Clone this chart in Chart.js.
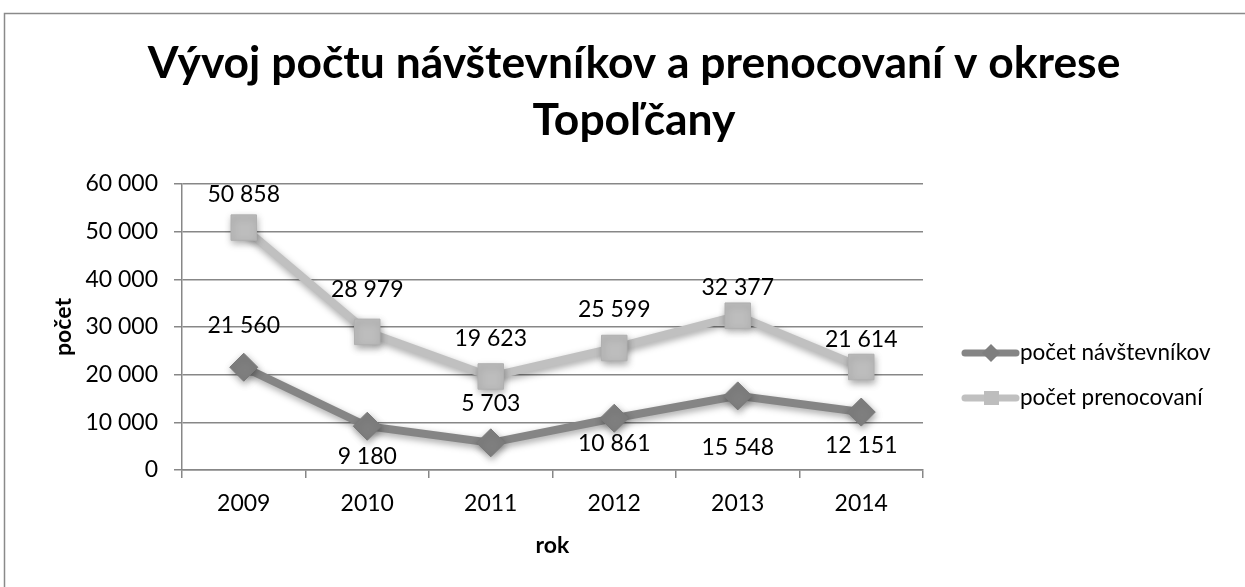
<!DOCTYPE html>
<html lang="sk">
<head>
<meta charset="utf-8">
<title>Vývoj počtu návštevníkov a prenocovaní v okrese Topoľčany</title>
<script src="https://cdn.jsdelivr.net/npm/chart.js@4.4.1/dist/chart.umd.min.js"></script>
<style>
	html, body { margin: 0; padding: 0; background: #fff; }
	canvas { display: block; }
</style>
</head>
<body>
<canvas id="chart" width="1245" height="587"></canvas>
<script>
const years = ['2009', '2010', '2011', '2012', '2013', '2014'];
const navstevnici = [21560, 9180, 5703, 10861, 15548, 12151];
const prenocovania = [50858, 28979, 19623, 25599, 32377, 21614];
const yTicks = [0, 10000, 20000, 30000, 40000, 50000, 60000];
const seriesNames = ['počet návštevníkov', 'počet prenocovaní'];
const titleLines = ['Vývoj počtu návštevníkov a prenocovaní v okrese', 'Topoľčany'];
const xTitle = 'rok';
const yTitle = 'počet';

// label offsets in px from the point (negative = above)
const navShift = [-42, 30, -39, 25, 52, 33];
const prenShift = [-33, -42, -38, -38, -28, -27];

const FONT = 'Lato, "Open Sans", sans-serif';
const GRID = '#878787';

function fmt(n) {
	return String(n).replace(/\B(?=(\d{3})+(?!\d))/g, ' ');
}

const frame = {
	id: 'frame',
	beforeDraw(chart) {
		const ctx = chart.ctx;
		ctx.save();
		ctx.fillStyle = '#fff';
		ctx.fillRect(0, 0, chart.width, chart.height);
		ctx.strokeStyle = '#8a8a8a';
		ctx.lineWidth = 1.5;
		ctx.strokeRect(4.5, 13.5, chart.width + 20, chart.height + 20);
		ctx.restore();
	},
	afterDraw(chart) {
		const ctx = chart.ctx;
		ctx.save();
		// title, sized to the reference width
		ctx.fillStyle = '#000';
		ctx.textAlign = 'center';
		ctx.textBaseline = 'alphabetic';
		ctx.font = 'bold 40px ' + FONT;
		const w = ctx.measureText(titleLines[0]).width;
		const size = 40 * 972 / w;
		ctx.font = 'bold ' + size.toFixed(1) + 'px ' + FONT;
		ctx.fillText(titleLines[0], 634, 78);
		ctx.fillText(titleLines[1], 634, 135);

		// legend
		const rows = [353, 398];
		chart.data.datasets.forEach((ds, i) => {
			const y = rows[i];
			ctx.strokeStyle = ds.borderColor;
			ctx.lineWidth = 7;
			ctx.lineCap = 'round';
			ctx.beginPath();
			ctx.moveTo(965, y);
			ctx.lineTo(1016, y);
			ctx.stroke();
			ctx.fillStyle = ds.pointBackgroundColor;
			ctx.beginPath();
			if (ds.pointStyle === 'rectRot') {
				ctx.moveTo(991, y - 9);
				ctx.lineTo(1000, y);
				ctx.lineTo(991, y + 9);
				ctx.lineTo(982, y);
				ctx.closePath();
			} else {
				ctx.rect(984, y - 7, 15, 14);
			}
			ctx.fill();
			ctx.fillStyle = '#000';
			ctx.textAlign = 'left';
			ctx.textBaseline = 'middle';
			ctx.font = '22.5px ' + FONT;
			ctx.fillText(ds.label, 1020, y);
		});
		ctx.restore();
	},
	beforeDatasetDraw(chart) {
		const ctx = chart.ctx;
		ctx.shadowColor = 'rgba(0,0,0,0.35)';
		ctx.shadowBlur = 7;
		ctx.shadowOffsetX = 1;
		ctx.shadowOffsetY = 3;
	},
	afterDatasetDraw(chart) {
		const ctx = chart.ctx;
		ctx.shadowColor = 'transparent';
		ctx.shadowBlur = 0;
		ctx.shadowOffsetX = 0;
		ctx.shadowOffsetY = 0;
	},
	afterDatasetsDraw(chart) {
		const ctx = chart.ctx;
		ctx.save();
		ctx.fillStyle = '#000';
		ctx.textAlign = 'center';
		ctx.textBaseline = 'middle';
		ctx.font = '23px ' + FONT;
		const shifts = [navShift, prenShift];
		chart.data.datasets.forEach((ds, i) => {
			chart.getDatasetMeta(i).data.forEach((pt, j) => {
				ctx.fillText(fmt(ds.data[j]), pt.x, pt.y + shifts[i][j]);
			});
		});
		ctx.restore();
	}
};

new Chart(document.getElementById('chart'), {
	type: 'line',
	data: {
		labels: years,
		datasets: [
			{
				label: seriesNames[0],
				data: navstevnici,
				borderColor: '#858585',
				borderWidth: 8,
				pointStyle: 'rectRot',
				pointRadius: 14,
				pointBackgroundColor: '#7f7f7f',
				pointBorderColor: '#7a7a7a',
				pointBorderWidth: 1,
				tension: 0
			},
			{
				label: seriesNames[1],
				data: prenocovania,
				borderColor: '#c0c0c0',
				borderWidth: 8,
				pointStyle: 'rect',
				pointRadius: 18,
				pointBackgroundColor: '#bdbdbd',
				pointBorderColor: '#b0b0b0',
				pointBorderWidth: 1,
				tension: 0
			}
		]
	},
	options: {
		responsive: false,
		animation: false,
		events: [],
		layout: { padding: { top: 184, right: 322, left: 0, bottom: 0 } },
		plugins: {
			legend: { display: false },
			title: { display: false },
			tooltip: { enabled: false }
		},
		scales: {
			x: {
				offset: true,
				grid: { offset: true, drawOnChartArea: false, drawTicks: true, tickLength: 8, color: GRID, lineWidth: 1.5 },
				border: { color: GRID, width: 1.5 },
				ticks: { color: '#000', font: { family: FONT, size: 23 }, padding: 12 },
				title: { display: true, text: xTitle, color: '#000', font: { family: FONT, size: 23, weight: 'bold' }, padding: { top: 0, bottom: 28 } },
				afterFit(scale) { scale.height = 117; }
			},
			y: {
				min: yTicks[0],
				max: yTicks[yTicks.length - 1],
				ticks: { stepSize: yTicks[1] - yTicks[0], color: '#000', font: { family: FONT, size: 23 }, padding: 16, callback: v => fmt(v) },
				grid: { color: GRID, lineWidth: 1.5, tickLength: 8 },
				border: { color: GRID, width: 1.5 },
				title: { display: true, text: yTitle, color: '#000', font: { family: FONT, size: 23, weight: 'bold' }, padding: { top: 50, bottom: 0 } },
				afterFit(scale) { scale.width = 182; }
			}
		}
	},
	plugins: [frame]
});
</script>
</body>
</html>
